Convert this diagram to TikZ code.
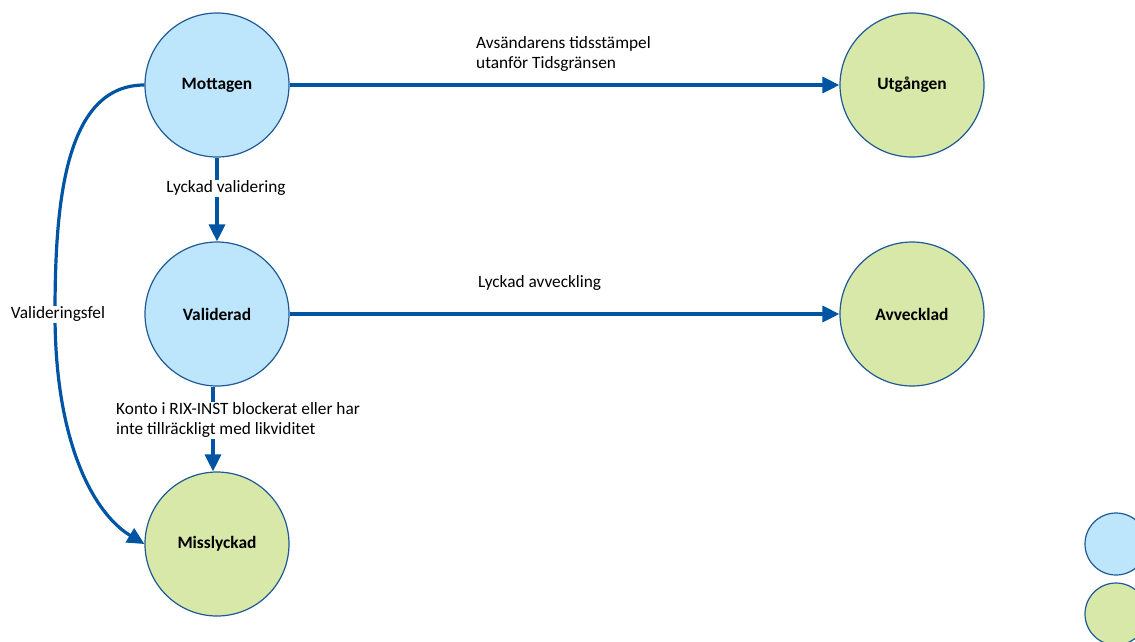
\documentclass[tikz,border=0pt]{standalone}
\usepackage{fontspec}
\setmainfont{Carlito}
\usetikzlibrary{arrows.meta}
\definecolor{arrowblue}{RGB}{0,84,164}
\definecolor{ringblue}{RGB}{30,90,150}
\definecolor{fillblue}{RGB}{189,230,252}
\definecolor{fillgreen}{RGB}{215,232,169}
\tikzset{
  state/.style={circle, draw=ringblue, line width=1.2pt, minimum size=144pt, inner sep=0pt, font=\fontsize{17.4}{20}\selectfont\bfseries},
  bluestate/.style={state, fill=fillblue},
  greenstate/.style={state, fill=fillgreen},
  legendcircle/.style={circle, draw=ringblue, line width=1.2pt, minimum size=62pt, inner sep=0pt},
  conn/.style={draw=arrowblue, line width=3.2pt, -{Triangle[length=17pt,width=16pt]}},
  lbl/.style={font=\fontsize{17.3}{20}\selectfont, inner sep=1pt, align=left},
}
\begin{document}
\begin{tikzpicture}[x=1pt,y=-1pt]
\useasboundingbox (0,0) rectangle (1135,641);
\node[bluestate] (mottagen) at (217,85) {Mottagen};
\node[bluestate] (validerad) at (217,314) {Validerad};
\node[greenstate] (misslyckad) at (217,544) {Misslyckad};
\node[greenstate] (utgangen) at (912,85) {Utgången};
\node[greenstate] (avvecklad) at (912,314) {Avvecklad};
\node[legendcircle, fill=fillblue] (legblue) at (1116,544) {};
\node[legendcircle, fill=fillgreen] (leggreen) at (1116,614) {};

\draw[conn] (mottagen) -- (utgangen);
\draw[conn] (validerad) -- (avvecklad);
\draw[conn] (mottagen) -- (validerad);
\draw[conn] ([xshift=-4pt]validerad.south) -- ([xshift=-4pt]misslyckad.north);
\draw[conn] (mottagen.west) .. controls +(-80,0) and +(0,-110) .. (55,314) coordinate (bend)
  .. controls +(0,130) and +(-50,-30) .. (misslyckad.west);

\node[lbl, fill=white] (lv) at (226,188) {Lyckad validering};
\node[lbl, fill=white] (vf) at (58,314) {Valideringsfel};
\node[lbl, fill=white, anchor=west] (konto) at (115,420) {Konto i RIX-INST blockerat eller har\\inte tillräckligt med likviditet};
\node[lbl, anchor=west] (avs) at (475,54) {Avsändarens tidsstämpel\\utanför Tidsgränsen};
\node[lbl, anchor=west] (la) at (477,283) {Lyckad avveckling};
\end{tikzpicture}
\end{document}
